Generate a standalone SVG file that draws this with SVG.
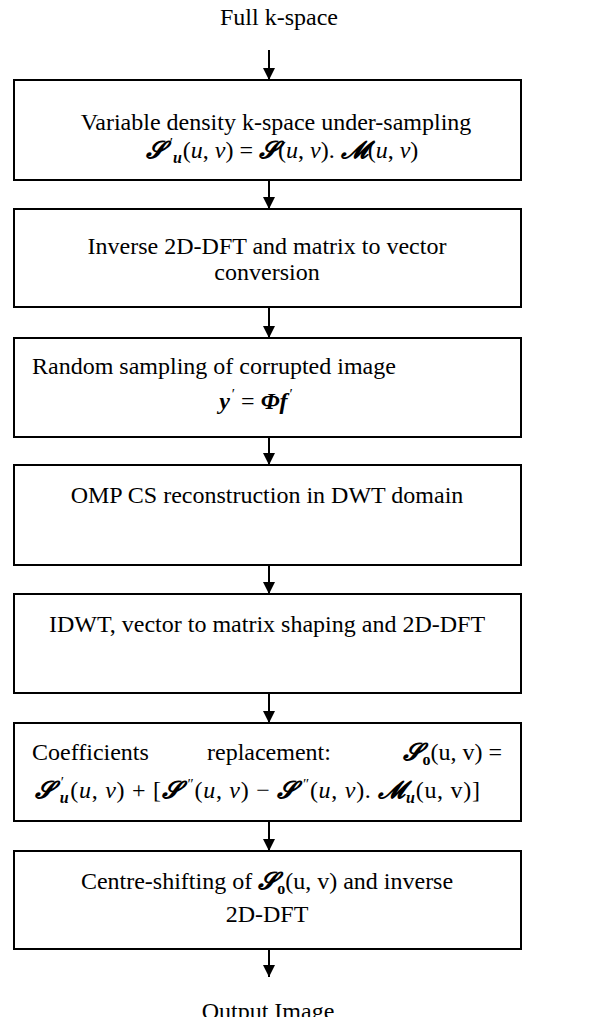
<svg xmlns="http://www.w3.org/2000/svg" width="611" height="1025" viewBox="0 0 611 1025">
<style>
text{font-family:"Liberation Serif","Times New Roman",serif;font-size:24px;fill:#000}
.box{fill:#fff;stroke:#000;stroke-width:2}
.c{text-anchor:middle}
.i{font-style:italic}
.s{font-family:"DejaVu Serif","Liberation Serif",serif;font-weight:bold;font-style:italic}
.b{font-weight:bold;font-style:italic}
.sub{font-size:16px;font-weight:bold}
.pr{font-size:15px}
.conn line{stroke:#000;stroke-width:2}
</style>
<defs>
<marker id="ah" viewBox="0 0 12 12" refX="12" refY="6" markerWidth="12" markerHeight="12" markerUnits="userSpaceOnUse" orient="auto">
<path d="M0,0 L12,6 L0,12 Z" fill="#000"/>
</marker>
<clipPath id="clipB"><rect x="0" y="0" width="611" height="1017"/></clipPath>
</defs>
<rect width="611" height="1025" fill="#fff"/>

<g id="start"><text class="c" x="279" y="25">Full k-space</text></g>

<g id="conn" class="conn">
<line x1="269" y1="50" x2="269" y2="80" marker-end="url(#ah)"/>
<line x1="269" y1="180" x2="269" y2="209" marker-end="url(#ah)"/>
<line x1="269" y1="307" x2="269" y2="338" marker-end="url(#ah)"/>
<line x1="269" y1="437" x2="269" y2="465" marker-end="url(#ah)"/>
<line x1="269" y1="565" x2="269" y2="594" marker-end="url(#ah)"/>
<line x1="269" y1="693" x2="269" y2="723" marker-end="url(#ah)"/>
<line x1="269" y1="821" x2="269" y2="851" marker-end="url(#ah)"/>
<line x1="269" y1="949" x2="269" y2="977" marker-end="url(#ah)"/>
</g>

<g id="n1">
<rect class="box" x="14" y="80" width="507" height="100"/>
<text class="c" x="276" y="130">Variable density k-space under-sampling</text>
<text class="c" x="282" y="158"><tspan class="s">𝓢</tspan><tspan class="pr" dx="5" dy="-10">′</tspan><tspan class="sub i" dy="15">u</tspan><tspan dx="1" dy="-5">(</tspan><tspan class="i">u</tspan>, <tspan class="i">v</tspan>) = <tspan class="s">𝓢</tspan>(<tspan class="i">u</tspan>, <tspan class="i">v</tspan>). <tspan class="s">𝓜</tspan>(<tspan class="i">u</tspan>, <tspan class="i">v</tspan>)</text>
</g>

<g id="n2">
<rect class="box" x="14" y="209" width="507" height="98"/>
<text class="c" x="267" y="254">Inverse 2D-DFT and matrix to vector</text>
<text class="c" x="267" y="280">conversion</text>
</g>

<g id="n3">
<rect class="box" x="14" y="338" width="507" height="99"/>
<text x="32" y="374">Random sampling of corrupted image</text>
<text class="c" x="256" y="409"><tspan class="b">y</tspan><tspan class="pr" dx="2" dy="-10">′</tspan><tspan dy="10"> = </tspan><tspan class="b">Φf</tspan><tspan class="pr" dx="2" dy="-10">′</tspan></text>
</g>

<g id="n4">
<rect class="box" x="14" y="465" width="507" height="100"/>
<text class="c" x="267" y="503">OMP CS reconstruction in DWT domain</text>
</g>

<g id="n5">
<rect class="box" x="14" y="594" width="507" height="99"/>
<text class="c" x="267" y="632">IDWT, vector to matrix shaping and 2D-DFT</text>
</g>

<g id="n6">
<rect class="box" x="14" y="723" width="507" height="98"/>
<text x="32" y="760">Coefficients</text>
<text x="207" y="760">replacement:</text>
<text x="502" y="760" text-anchor="end"><tspan class="s">𝓢</tspan><tspan class="sub" dy="5">o</tspan><tspan dy="-5">(u, v) =</tspan></text>
<text x="35" y="798" textLength="445" lengthAdjust="spacing"><tspan class="s">𝓢</tspan><tspan class="pr" dx="6" dy="-11">′</tspan><tspan class="sub i" dx="-5" dy="16">u</tspan><tspan dx="1" dy="-5">(</tspan><tspan class="i">u</tspan>, <tspan class="i">v</tspan>) + [<tspan class="s">𝓢</tspan><tspan class="pr" dx="6" dy="-9">″</tspan><tspan dy="9">(</tspan><tspan class="i">u</tspan>, <tspan class="i">v</tspan>) − <tspan class="s">𝓢</tspan><tspan class="pr" dx="6" dy="-9">″</tspan><tspan dy="9">(</tspan><tspan class="i">u</tspan>, <tspan class="i">v</tspan>). <tspan class="s">𝓜</tspan><tspan class="sub i" dy="5">u</tspan><tspan dy="-5">(u, v)]</tspan></text>
</g>

<g id="n7">
<rect class="box" x="14" y="851" width="507" height="98"/>
<text class="c" x="267" y="889">Centre-shifting of <tspan class="s">𝓢</tspan><tspan class="sub" dy="5">o</tspan><tspan dy="-5">(u, v) and inverse</tspan></text>
<text class="c" x="267" y="922">2D-DFT</text>
</g>

<g id="end" clip-path="url(#clipB)"><text class="c" x="268" y="1019">Output Image</text></g>
</svg>
